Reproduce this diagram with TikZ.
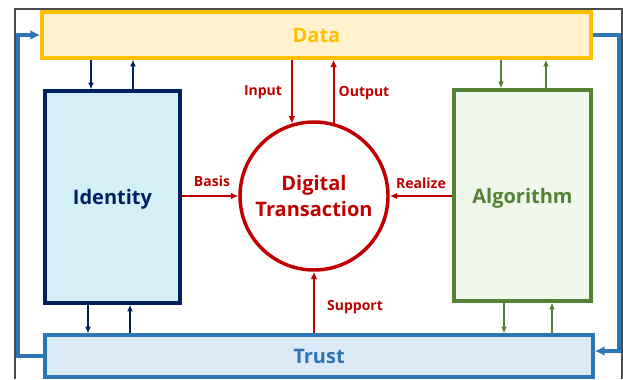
\documentclass[tikz,border=0pt]{standalone}
\usepackage{fontspec}
\setmainfont{Open Sans}
\usetikzlibrary{arrows.meta}
\definecolor{dataY}{HTML}{FFC000}
\definecolor{dataF}{HTML}{FFF2CC}
\definecolor{idB}{HTML}{002060}
\definecolor{idF}{HTML}{D5EFF6}
\definecolor{alB}{HTML}{548235}
\definecolor{alF}{HTML}{F0F8EC}
\definecolor{trB}{HTML}{2E75B6}
\definecolor{trF}{HTML}{DCE9F6}
\definecolor{redC}{HTML}{C00000}
\tikzset{
  bigtxt/.style={font=\fontsize{15}{18}\selectfont\bfseries},
  lbl/.style={font=\fontsize{10.5}{12}\selectfont\bfseries, text=redC},
  box/.style={draw, line width=2.6pt, inner sep=0pt, bigtxt, text depth=0pt},
  redarr/.style={draw=redC, line width=1.6pt, -{Latex[length=5.5pt,width=5pt]}},
  smallarr/.style={line width=1.6pt, -{Latex[length=5pt,width=4.5pt]}},
  loop/.style={draw=trB, line width=2.4pt, -{Latex[length=7.5pt,width=7.5pt]}},
}
\begin{document}
\begin{tikzpicture}[x=0.75pt,y=-0.75pt]
\useasboundingbox (0,0) rectangle (623,379);
% outer thin frame
\draw[color=black!70, line width=0.8pt] (15,379) -- (15,9) -- (622,9) -- (622,379);
% boxes
\node[box, draw=dataY, fill=dataF, text=dataY, minimum width=411.75pt, minimum height=34.5pt] (Data) at (316.5,35) {Data};
\node[box, draw=idB, fill=idF, text=idB, minimum width=101.25pt, minimum height=159pt] (Id) at (112.5,197) {Identity};
\node[box, draw=alB, fill=alF, text=alB, minimum width=102.75pt, minimum height=158.25pt] (Al) at (522.5,195.5) {Algorithm};
\node[box, draw=trB, fill=trF, text=trB, minimum width=411pt, minimum height=31.5pt] (Tr) at (319,356) {Trust};
\node[circle, draw=redC, line width=2.6pt, minimum size=111pt, inner sep=0pt, align=center, bigtxt, text=redC] (C) at (314,196) {Digital\\[1pt]Transaction};
% red arrows
\draw[redarr] (Data.south -| C.107.3) -- (C.107.3);
\draw[redarr] (C.75.1) -- (Data.south -| C.75.1);
\draw[redarr] (Id.east |- C.west) -- (C.west);
\draw[redarr] (Al.west |- C.east) -- (C.east);
\draw[redarr] (Tr.north -| C.south) -- (C.south);
% labels
\node[lbl] (lin) at (263,92) {Input};
\node[lbl] (lout) at (364,93) {Output};
\node[lbl] (lbas) at (212,181) {Basis};
\node[lbl] (lrea) at (421,183) {Realize};
\node[lbl] (lsup) at (355,307) {Support};
% identity small arrows
\draw[smallarr, idB] (Data.south -| 91,0) -- (Id.north -| 91,0);
\draw[smallarr, idB] (Id.north -| 133,0) -- (Data.south -| 133,0);
\draw[smallarr, idB] (Id.south -| 88,0) -- (Tr.north -| 88,0);
\draw[smallarr, idB] (Tr.north -| 130,0) -- (Id.south -| 130,0);
% algorithm small arrows
\draw[smallarr, alB] (Data.south -| 501,0) -- (Al.north -| 501,0);
\draw[smallarr, alB] (Al.north -| 546,0) -- (Data.south -| 546,0);
\draw[smallarr, alB] (Al.south -| 504,0) -- (Tr.north -| 504,0);
\draw[smallarr, alB] (Tr.north -| 552,0) -- (Al.south -| 552,0);
% blue loops
\draw[loop] (Tr.west) -- (18,0 |- Tr.west) -- (18,0 |- Data.west) -- (Data.west);
\draw[loop] (Data.east) -- (619,0 |- Data.east) -- (619,351) -- (Tr.east |- 0,351);
\end{tikzpicture}
\end{document}
